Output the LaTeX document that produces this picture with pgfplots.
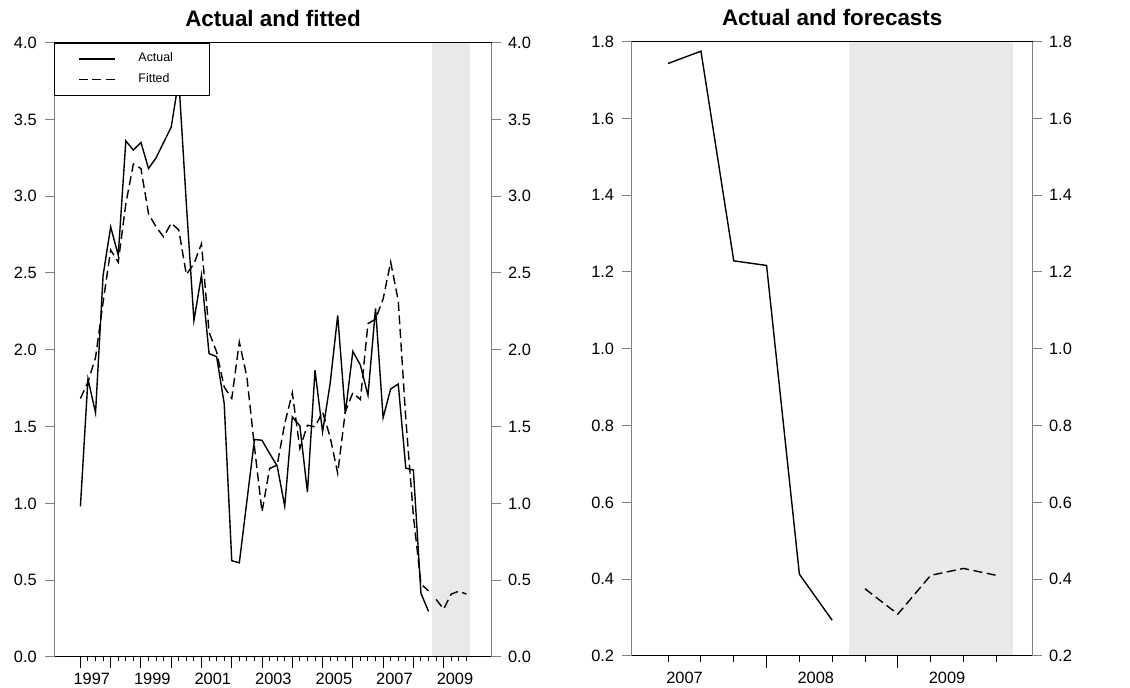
\documentclass[border=0pt]{standalone}
\usepackage{pgfplots}
\usepackage{pgfplotstable}
\pgfplotsset{compat=1.18}
\usepackage{fontspec}
\setmainfont{Liberation Sans}
\definecolor{shade}{RGB}{233,233,233}
\definecolor{axgray}{RGB}{128,128,128}

\pgfplotstableread{
k v
0 0.98
1 1.81
2 1.59
3 2.485
4 2.80
5 2.615
6 3.36
7 3.30
8 3.35
9 3.18
10 3.25
11 3.35
12 3.45
13 3.76
14 2.95
15 2.19
16 2.485
17 1.975
18 1.955
19 1.65
20 0.627
21 0.613
22 1.015
23 1.416
24 1.411
25 1.325
26 1.244
27 0.982
28 1.563
29 1.505
30 1.073
31 1.867
32 1.465
33 1.78
34 2.224
35 1.585
36 1.99
37 1.90
38 1.704
39 2.27
40 1.558
41 1.745
42 1.777
43 1.229
44 1.217
45 0.415
46 0.297
}\actualL

\pgfplotstableread{
k v
0 1.683
1 1.79
2 1.95
3 2.31
4 2.65
5 2.57
6 2.95
7 3.21
8 3.18
9 2.886
10 2.80
11 2.735
12 2.825
13 2.78
14 2.49
15 2.56
16 2.69
17 2.115
18 1.986
19 1.758
20 1.683
21 2.05
22 1.823
23 1.368
24 0.945
25 1.227
26 1.249
27 1.52
28 1.719
29 1.357
30 1.509
31 1.498
32 1.596
33 1.433
34 1.195
35 1.596
36 1.72
37 1.676
38 2.17
39 2.20
40 2.33
41 2.571
42 2.32
43 1.55
44 0.92
45 0.475
46 0.43
}\fittedL

\pgfplotstableread{
k v
47 0.375
48 0.312
49 0.41
50 0.428
51 0.41
}\forecastL

\pgfplotstableread{
q v
1 1.743
2 1.775
3 1.229
4 1.217
5 0.413
6 0.293
}\actualR

\pgfplotstableread{
q v
7 0.375
8 0.309
9 0.41
10 0.428
11 0.41
}\forecastR

\pgfplotsset{
  frameaxis/.style={
    scale only axis,
    anchor=south west,
    separate axis lines,
    axis on top,
    x axis line style={black, line width=0.5pt},
    y axis line style={axgray, line width=0.5pt},
    tick align=outside,
    ytick pos=both,
    xtick pos=bottom,
    yticklabels={},
    xtick=\empty,
    ytick style={axgray, line width=0.5pt},
    xtick style={black, line width=0.5pt},
    extra x tick labels={},
    every axis title/.style={at={(0.5,1)}, anchor=base, yshift=7.8pt, inner sep=0pt,
      font=\bfseries\fontsize{11.2}{13.4}\selectfont},
  },
  labelaxis/.style={
    scale only axis,
    anchor=south west,
    axis line style={draw=none},
    tick style={draw=none},
    tick label style={font=\fontsize{8.2}{9.8}\selectfont},
    /pgf/number format/assume math mode=true,
    /pgf/number format/fixed,
    /pgf/number format/fixed zerofill,
    /pgf/number format/precision=1,
  },
  minoraxis/.style={
    scale only axis,
    anchor=south west,
    axis line style={draw=none},
    tick align=outside,
    xtick pos=bottom,
    xticklabels={},
    ytick=\empty,
    xtick style={black, line width=0.5pt},
  },
  datline/.style={black, line width=0.7pt, mark=none},
  dashline/.style={black, line width=0.7pt, mark=none, dash pattern=on 4.5pt off 2.3pt},
}

\begin{document}
\begin{tikzpicture}
\path[use as bounding box] (0,0) rectangle (565pt,344pt);

% ---------------- Left panel ----------------
\begin{axis}[frameaxis,
  at={(27.15pt,15.5pt)}, width=218.7pt, height=307.2pt,
  xmin=-3.45, xmax=54.35, ymin=0, ymax=4,
  ytick={0,0.5,1,1.5,2,2.5,3,3.5,4},
  extra x ticks={0,4,8,12,16,20,24,28,32,36,40,44,48},
  extra x tick style={major tick length=5.5pt, tick style={black, line width=0.5pt}},
  major tick length=4.5pt,
  title={Actual and fitted},
  legend style={at={(0,1)}, anchor=north west, draw=black, line width=0.5pt, fill=white,
    inner xsep=0pt, inner ysep=2.7pt, nodes={inner sep=0pt, anchor=west, draw=none},
    column sep=0pt, row sep=0pt, font=\fontsize{6.2}{7.4}\selectfont},
  legend image code/.code={\path[draw=none, fill=none] (0pt,-5.2pt) rectangle (41.85pt,5.2pt); \draw[#1, line width=0.7pt] (12pt,0pt) -- (30pt,0pt);},
]
\addplot[draw=none, fill=shade, forget plot] coordinates {(46.5,4) (51.5,4)} \closedcycle;
\addplot[datline] table[x=k, y=v] {\actualL};
\addlegendentry{\makebox[35.7pt][l]{Actual}}
\addplot[dashline] table[x=k, y=v] {\fittedL};
\addlegendentry{\makebox[35.7pt][l]{Fitted}}
\addplot[dashline, forget plot] table[x=k, y=v] {\forecastL};
\end{axis}

\begin{axis}[minoraxis,
  at={(27.15pt,15.5pt)}, width=218.7pt, height=307.2pt,
  xmin=-3.45, xmax=54.35, ymin=0, ymax=4,
  xtick={1,2,3,5,6,7,9,10,11,13,14,15,17,18,19,21,22,23,25,26,27,29,30,31,33,34,35,37,38,39,41,42,43,45,46,47,49,50,51},
  major tick length=2.2pt,
]
\end{axis}

\begin{axis}[labelaxis,
  at={(27.15pt,15.5pt)}, width=218.7pt, height=307.2pt,
  xmin=-3.45, xmax=54.35, ymin=0, ymax=4,
  ytick={0,0.5,1,1.5,2,2.5,3,3.5,4},
  yticklabel pos=left,
  yticklabel style={anchor=east, inner sep=0pt, xshift=-8.6pt},
  xtick={1.5,9.5,17.5,25.5,33.5,41.5,49.5},
  xticklabels={1997,1999,2001,2003,2005,2007,2009},
  xticklabel style={anchor=north, inner sep=0pt, yshift=-8pt},
]
\end{axis}

\begin{axis}[labelaxis,
  at={(27.15pt,15.5pt)}, width=218.7pt, height=307.2pt,
  xmin=-3.45, xmax=54.35, ymin=0, ymax=4,
  ytick={0,0.5,1,1.5,2,2.5,3,3.5,4},
  yticklabel pos=right,
  yticklabel style={anchor=west, inner sep=0pt, xshift=8pt},
  xtick=\empty,
]
\end{axis}

% ---------------- Right panel ----------------
\begin{axis}[frameaxis,
  at={(315.85pt,16pt)}, width=200.5pt, height=307.2pt,
  xmin=-0.11, xmax=12.11, ymin=0.2, ymax=1.8,
  ytick={0.2,0.4,0.6,0.8,1.0,1.2,1.4,1.6,1.8},
  extra x ticks={4,8},
  extra x tick style={major tick length=6pt, tick style={black, line width=0.5pt}},
  major tick length=4.7pt,
  title={Actual and forecasts},
]
\addplot[draw=none, fill=shade, forget plot] coordinates {(6.5,1.8) (11.5,1.8)} \closedcycle;
\addplot[datline] table[x=q, y=v] {\actualR};
\addplot[dashline] table[x=q, y=v] {\forecastR};
\end{axis}

\begin{axis}[minoraxis,
  at={(315.85pt,16pt)}, width=200.5pt, height=307.2pt,
  xmin=-0.11, xmax=12.11, ymin=0.2, ymax=1.8,
  xtick={1,2,3,5,6,7,9,10,11},
  major tick length=2.8pt,
]
\end{axis}

\begin{axis}[labelaxis,
  at={(315.85pt,16pt)}, width=200.5pt, height=307.2pt,
  xmin=-0.11, xmax=12.11, ymin=0.2, ymax=1.8,
  ytick={0.2,0.4,0.6,0.8,1.0,1.2,1.4,1.6,1.8},
  yticklabel pos=left,
  yticklabel style={anchor=east, inner sep=0pt, xshift=-8.6pt},
  xtick={1.5,5.5,9.5},
  xticklabels={2007,2008,2009},
  xticklabel style={anchor=north, inner sep=0pt, yshift=-8pt},
]
\end{axis}

\begin{axis}[labelaxis,
  at={(315.85pt,16pt)}, width=200.5pt, height=307.2pt,
  xmin=-0.11, xmax=12.11, ymin=0.2, ymax=1.8,
  ytick={0.2,0.4,0.6,0.8,1.0,1.2,1.4,1.6,1.8},
  yticklabel pos=right,
  yticklabel style={anchor=west, inner sep=0pt, xshift=8pt},
  xtick=\empty,
]
\end{axis}
\end{tikzpicture}
\end{document}
